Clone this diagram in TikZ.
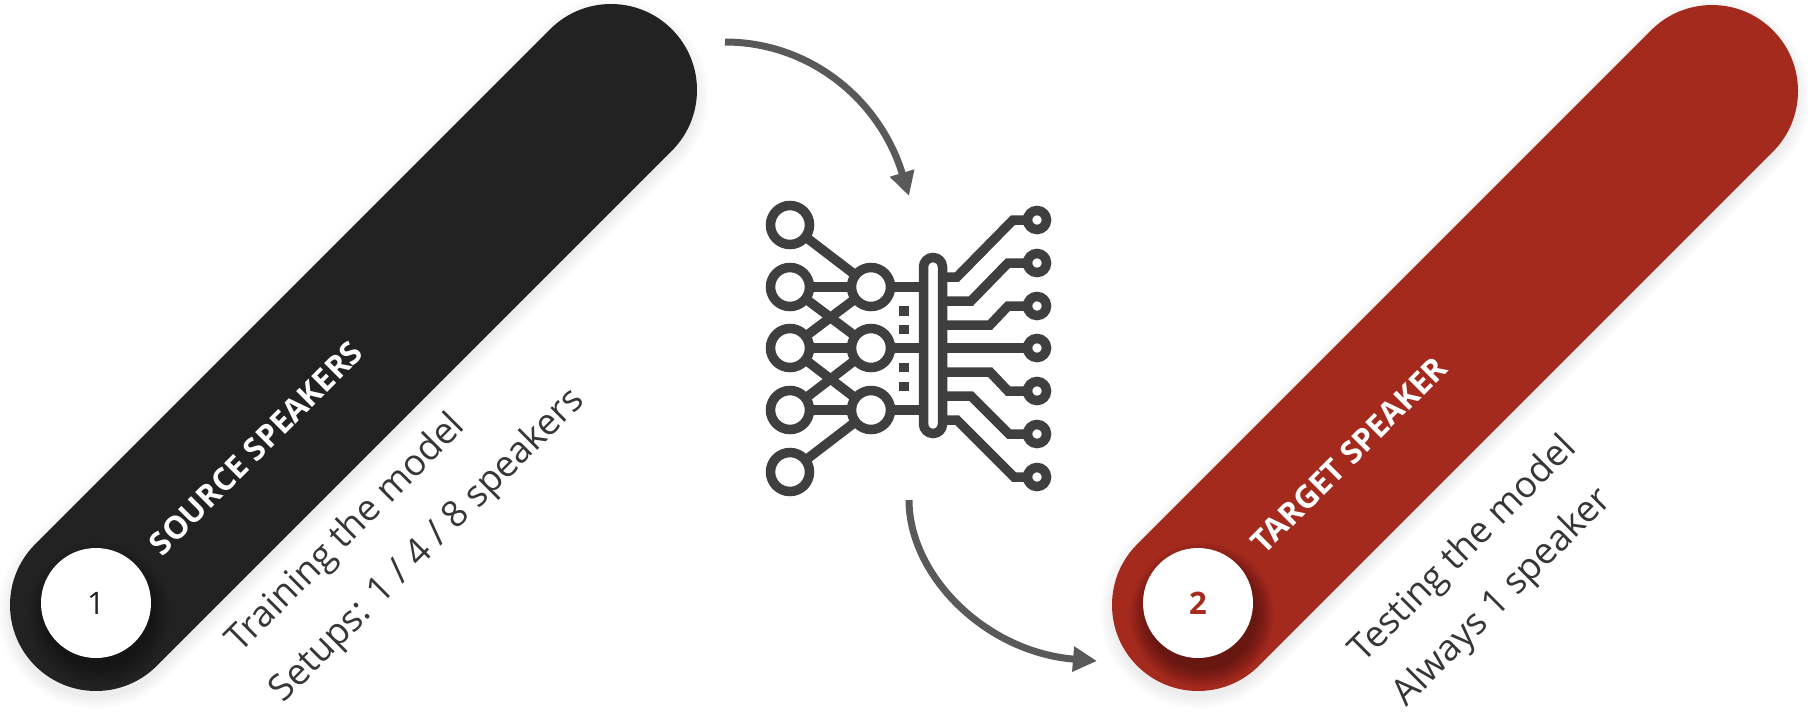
\documentclass[tikz,border=0pt]{standalone}
\usepackage{xcolor}
\usepackage{fontspec}
\setmainfont{Open Sans}
\usetikzlibrary{positioning, arrows.meta}
\definecolor{pillblack}{HTML}{222222}
\definecolor{pillred}{HTML}{A52A1E}
\definecolor{icongray}{HTML}{3F3F3F}
\definecolor{arrowgray}{HTML}{595959}
\definecolor{textgray}{HTML}{363636}

\begin{document}
\begin{tikzpicture}[
        x=1pt, y=-1pt,
        pill/.style={line width=172pt, line cap=round},
        numdisc/.style={circle, fill=white, minimum size=110pt, inner sep=0pt, font=\fontsize{31}{31}\selectfont},
        title/.style={white, rotate=45, font=\fontsize{31.5}{32}\selectfont\bfseries},
        note/.style={textgray, rotate=45, font=\fontsize{36.5}{37}\selectfont},
        rel/.style={arrowgray, line width=7pt, -{Triangle[length=24pt, width=24pt]}},
        neuron/.style={circle, draw=icongray, line width=9.5pt, minimum size=39pt, inner sep=0pt, outer sep=0pt},
        pin/.style={circle, draw=icongray, line width=9.5pt, minimum size=19pt, inner sep=0pt, outer sep=0pt},
        wire/.style={icongray, line width=9.5pt},
        dotbox/.style={fill=icongray, minimum size=9.5pt, inner sep=0pt, outer sep=0pt}
    ]
        \useasboundingbox (0,0) rectangle (1808,713);

        % Soft shadows under the pills
        \foreach \w in {172,175,...,196} {
            \draw[pill, line width=\w pt, black, opacity=0.008] (96,611) -- (611,96);
            \draw[pill, line width=\w pt, black, opacity=0.008] (1198,611) -- (1712,97);
        }
        \draw[pill, pillblack] (96,605) -- (611,90);
        \draw[pill, pillred] (1198,605) -- (1712,91);

        % Shadow under the discs
        \foreach \r in {54,55.5,...,73} {
            \fill[black, opacity=0.007] (99,614) circle[radius=\r pt];
            \fill[black, opacity=0.03] (1202,615) circle[radius=\r pt];
        }

        \node[numdisc, text=pillblack] (one) at (96,603) {1};
        \node[numdisc, text=pillred, font=\fontsize{31}{31}\selectfont\bfseries] (two) at (1198,603) {2};

        \node[title] (source) at (256,448) {SOURCE SPEAKERS};
        \node[title] (target) at (1349,455) {TARGET SPEAKER};
        \node[note] (train) at (347,534) {Training the model};
        \node[note] (setups) at (428,546) {Setups: 1 / 4 / 8 speakers};
        \node[note] (test) at (1464,550) {Testing the model};
        \node[note] (always) at (1503,598) {Always 1 speaker};

        % Network icon, input side
        \foreach \n/\y in {a/225, b/287, c/348, d/410, e/472} {
            \node[neuron] (in\n) at (790,\y) {};
        }
        \foreach \n/\y in {a/287, b/348, c/410} {
            \node[neuron] (mid\n) at (871,\y) {};
        }
        \foreach \s/\t in {a/a, b/a, b/b, c/a, c/b, c/c, d/b, d/c, e/c} {
            \draw[wire] (in\s) -- (mid\t);
        }
        \node[draw=icongray, line width=9.5pt, rounded corners=9.5pt, minimum width=19pt, minimum height=176pt,
            inner sep=0pt, outer sep=0pt] (bar) at (933,345.5) {};
        \foreach \n in {a, b, c} {
            \draw[wire] (mid\n) -- (bar.west |- mid\n);
        }
        \foreach \y in {311, 329.5, 367.5, 386.5} {
            \node[dotbox] at (904,\y) {};
        }

        % Network icon, output side
        \foreach \n/\y in {a/220, b/263, c/306, d/348, e/391, f/434, g/477} {
            \node[pin] (out\n) at (1037,\y) {};
        }
        \draw[wire] (bar.east |- 0,277) -- (957,277) -- (1013,220) -- (outa);
        \draw[wire] (bar.east |- 0,301) -- (971,301) -- (1008,263) -- (outb);
        \draw[wire] (bar.east |- 0,325) -- (990,325) -- (1008,306) -- (outc);
        \draw[wire] (bar.east |- outd) -- (outd);
        \draw[wire] (bar.east |- 0,372) -- (990,372) -- (1008,391) -- (oute);
        \draw[wire] (bar.east |- 0,396) -- (971,396) -- (1009,434) -- (outf);
        \draw[wire] (bar.east |- 0,420) -- (957,420) -- (1014,477) -- (outg);

        % Flow arrows
        \coordinate (fromsource) at (725,42);
        \coordinate (tonet) at (909,196);
        \coordinate (fromnet) at (909,500);
        \coordinate (totarget) at (1097,661);
        \draw[rel] (fromsource) .. controls (810,42) and (880,100) .. (tonet);
        \draw[rel] (fromnet) .. controls (909,575) and (985,652) .. (totarget);

    \end{tikzpicture}
\end{document}
